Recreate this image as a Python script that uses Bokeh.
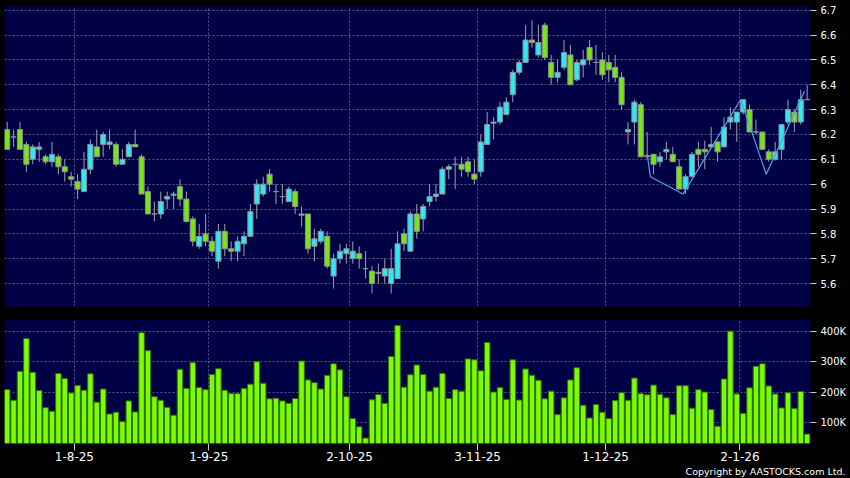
from bokeh.plotting import figure
from bokeh.layouts import column
from bokeh.models import ColumnDataSource, FixedTicker, CustomJSTickFormatter, Range1d, Title
from bokeh.embed import file_html
from bokeh.resources import INLINE

# ---------------- data ----------------
opens = [6.22, 6.19, 6.22, 6.16, 6.10, 6.14, 6.11, 6.09, 6.11, 6.07,
         6.03, 6.01, 5.97, 6.06, 6.15, 6.16, 6.16, 6.16, 6.08, 6.11,
         6.16, 6.11, 5.97, 5.88, 5.88, 5.94, 5.955, 5.99, 5.94, 5.86,
         5.75, 5.80, 5.77, 5.69, 5.81, 5.74, 5.73, 5.76, 5.79, 5.92,
         5.96, 6.04, 5.97, 5.95, 5.93, 5.97, 5.875, 5.88, 5.75, 5.77,
         5.79, 5.63, 5.70, 5.72, 5.70, 5.72, 5.66, 5.65, 5.64, 5.63,
         5.60, 5.62, 5.80, 5.73, 5.88, 5.86, 5.93, 5.95, 5.96, 6.06,
         6.08, 6.08, 6.09, 6.04, 6.05, 6.16, 6.245, 6.25, 6.28, 6.36,
         6.45, 6.49, 6.58, 6.52, 6.64, 6.49, 6.43, 6.47, 6.52, 6.42,
         6.48, 6.55, 6.49, 6.50, 6.49, 6.47, 6.43, 6.21, 6.25, 6.32,
         6.115, 6.12, 6.09, 6.13, 6.12, 6.07, 5.98, 6.03, 6.14, 6.14,
         6.15, 6.17, 6.15, 6.25, 6.25, 6.29, 6.30, 6.21, 6.21, 6.13,
         6.10, 6.14, 6.25, 6.29, 6.25, 6.34]
highs = [6.25, 6.22, 6.25, 6.17, 6.16, 6.17, 6.12, 6.17, 6.12, 6.10,
         6.05, 6.04, 6.13, 6.18, 6.22, 6.21, 6.22, 6.17, 6.14, 6.17,
         6.22, 6.12, 5.99, 5.93, 5.97, 5.97, 5.97, 6.02, 5.97, 5.87,
         5.84, 5.88, 5.79, 5.84, 5.84, 5.77, 5.79, 5.81, 5.92, 6.02,
         6.03, 6.06, 6.00, 6.00, 5.99, 5.98, 5.91, 5.88, 5.82, 5.82,
         5.81, 5.72, 5.76, 5.76, 5.77, 5.75, 5.73, 5.67, 5.68, 5.70,
         5.74, 5.81, 5.82, 5.89, 5.92, 5.92, 6.00, 6.00, 6.07, 6.08,
         6.11, 6.11, 6.11, 6.10, 6.20, 6.29, 6.27, 6.33, 6.35, 6.46,
         6.50, 6.64, 6.66, 6.64, 6.65, 6.52, 6.50, 6.58, 6.56, 6.50,
         6.54, 6.58, 6.56, 6.53, 6.52, 6.52, 6.45, 6.25, 6.34, 6.33,
         6.21, 6.12, 6.13, 6.17, 6.15, 6.10, 6.04, 6.13, 6.17, 6.175,
         6.23, 6.175, 6.27, 6.31, 6.29, 6.34, 6.32, 6.26, 6.21, 6.14,
         6.17, 6.24, 6.34, 6.30, 6.38, 6.40]
lows = [6.14, 6.15, 6.14, 6.05, 6.08, 6.09, 6.08, 6.07, 6.04, 6.01,
        5.99, 5.94, 5.97, 6.04, 6.11, 6.11, 6.14, 6.07, 6.08, 6.11,
        6.15, 5.96, 5.88, 5.85, 5.86, 5.90, 5.90, 5.91, 5.845, 5.75,
        5.74, 5.75, 5.71, 5.66, 5.71, 5.69, 5.69, 5.71, 5.79, 5.86,
        5.95, 5.97, 5.92, 5.92, 5.93, 5.88, 5.83, 5.72, 5.69, 5.76,
        5.66, 5.58, 5.68, 5.68, 5.68, 5.66, 5.62, 5.56, 5.60, 5.60,
        5.56, 5.62, 5.73, 5.73, 5.78, 5.81, 5.91, 5.93, 5.96, 6.02,
        5.98, 6.03, 6.03, 6.00, 6.03, 6.16, 6.18, 6.24, 6.28, 6.33,
        6.44, 6.49, 6.55, 6.51, 6.50, 6.40, 6.41, 6.46, 6.40, 6.415,
        6.43, 6.48, 6.44, 6.42, 6.41, 6.41, 6.30, 6.16, 6.16, 6.11,
        6.10, 6.04, 6.07, 6.10, 6.09, 5.98, 5.96, 6.03, 6.07, 6.06,
        6.15, 6.09, 6.15, 6.22, 6.17, 6.28, 6.21, 6.20, 6.14, 6.09,
        6.095, 6.10, 6.24, 6.21, 6.24, 6.34]
closes = [6.14, 6.19, 6.14, 6.08, 6.15, 6.15, 6.09, 6.12, 6.07, 6.05,
          6.02, 5.98, 6.06, 6.16, 6.11, 6.20, 6.17, 6.08, 6.10, 6.16,
          6.15, 5.96, 5.88, 5.88, 5.93, 5.95, 5.96, 5.94, 5.85, 5.77,
          5.79, 5.77, 5.73, 5.81, 5.74, 5.73, 5.77, 5.79, 5.89, 6.00,
          6.00, 6.00, 5.97, 5.95, 5.98, 5.91, 5.88, 5.74, 5.78, 5.81,
          5.67, 5.70, 5.73, 5.74, 5.73, 5.70, 5.66, 5.60, 5.645, 5.66,
          5.66, 5.76, 5.76, 5.88, 5.81, 5.91, 5.95, 5.96, 6.06, 6.07,
          6.08, 6.06, 6.05, 6.02, 6.17, 6.24, 6.25, 6.31, 6.33, 6.45,
          6.49, 6.58, 6.57, 6.57, 6.51, 6.43, 6.45, 6.53, 6.40, 6.49,
          6.50, 6.50, 6.49, 6.44, 6.46, 6.43, 6.32, 6.22, 6.33, 6.11,
          6.11, 6.08, 6.11, 6.14, 6.09, 5.98, 6.03, 6.12, 6.12, 6.13,
          6.16, 6.13, 6.23, 6.27, 6.29, 6.34, 6.21, 6.21, 6.14, 6.10,
          6.13, 6.24, 6.30, 6.25, 6.34, 6.34]
volumes_k = [208, 173, 268, 376, 265, 205, 149, 137, 261, 245,
             197, 222, 206, 260, 167, 210, 128, 134, 103, 171,
             135, 395, 336, 185, 173, 150, 124, 275, 212, 297,
             215, 208, 258, 277, 206, 195, 195, 212, 226, 300,
             229, 178, 180, 171,
             163, 179, 302, 240, 231, 210, 255, 293, 273, 185,
             113, 86, 49, 175, 192, 163, 317, 419, 216, 257,
             289, 258, 203, 216, 261, 179, 208, 203, 309, 306,
             270, 363, 200, 215, 176, 306, 174, 276, 255, 239,
             178, 203,
             126, 181, 240, 280, 157, 115, 159, 134, 113, 172,
             198, 173, 246, 195, 191, 223, 193, 181, 126, 221,
             221, 147, 208, 200, 143, 88, 243, 400, 194, 130,
             214, 285, 293, 220, 194, 148, 198, 146, 202, 62]

# zig-zag overlay (candle index, price)
zigzag_idx = [100.0, 100.5, 105.6, 114.6, 118.6, 124.6]
zigzag_px = [6.12, 6.03, 5.96, 6.34, 6.04, 6.375]

# date axis: label and candle index of first trading day of that month
date_labels = ["1-8-25", "1-9-25", "2-10-25", "3-11-25", "1-12-25", "2-1-26"]
date_index = [10, 31, 53, 73, 93, 114]

price_ticks = [5.6, 5.7, 5.8, 5.9, 6.0, 6.1, 6.2, 6.3, 6.4, 6.5, 6.6, 6.7]
volume_ticks = [100000, 200000, 300000, 400000]

# ---------------- styling ----------------
BG = "#000000"
NAVY = "#000044"
UP = "#30e8f2"
DOWN = "#78e614"
GRID = "#55558a"
FONT = "DejaVu Sans"

n = len(opens)
idx = list(range(n))
tops = [max(o, c) for o, c in zip(opens, closes)]
bots = [min(o, c) for o, c in zip(opens, closes)]
cols = [UP if c > o else DOWN for o, c in zip(opens, closes)]
src = ColumnDataSource(dict(x=idx, o=opens, h=highs, l=lows, c=closes,
                            top=tops, bot=bots, col=cols,
                            vol=[v * 1000 for v in volumes_k]))

tick_pos = [i + 0.5 for i in date_index]
xr = Range1d(-0.42, n - 0.48)

W = 850
LB = 4
RB = 40


def style(p):
    p.background_fill_color = NAVY
    p.border_fill_color = BG
    p.outline_line_color = None
    p.xgrid.ticker = FixedTicker(ticks=tick_pos)
    for g in (p.xgrid, p.ygrid):
        g.grid_line_color = GRID
        g.grid_line_dash = "2 2"
        g.grid_line_width = 1
    ax = p.yaxis[0]
    ax.axis_line_color = None
    ax.major_tick_in = 0
    ax.major_tick_out = 6
    ax.major_tick_line_color = "#c8c8c8"
    ax.minor_tick_line_color = None
    ax.major_label_text_color = "#ffffff"
    ax.major_label_text_font = FONT
    ax.major_label_text_font_size = "10px"
    ax.major_label_standoff = 4


# ---------------- price panel ----------------
pp = figure(width=W, height=312, x_range=xr, y_range=Range1d(5.5076, 6.715),
            output_backend="svg", toolbar_location=None,
            x_axis_location=None, y_axis_location="right",
            min_border_left=LB, min_border_right=RB, min_border_top=6, min_border_bottom=6)
style(pp)
pp.yaxis.ticker = FixedTicker(ticks=price_ticks)
pp.yaxis.formatter = CustomJSTickFormatter(code="return String(Math.round(tick * 10) / 10);")
pp.ygrid.ticker = FixedTicker(ticks=price_ticks)

pp.segment(x0="x", y0="h", x1="x", y1="l", source=src, line_color="#a0a0a8", line_width=1)
pp.vbar(x="x", top="top", bottom="bot", width=0.8, source=src,
        fill_color="col", line_color="#8e8e96", line_width=1)
pp.line(zigzag_idx, zigzag_px, line_color="#4aa3e6", line_width=1.2)

# ---------------- volume panel ----------------
pv = figure(width=W, height=166, x_range=xr, y_range=Range1d(31200, 438300),
            output_backend="svg", toolbar_location=None,
            x_axis_location="below", y_axis_location="right",
            min_border_left=LB, min_border_right=RB, min_border_top=7, min_border_bottom=35)
style(pv)
pv.yaxis.ticker = FixedTicker(ticks=volume_ticks)
pv.yaxis.formatter = CustomJSTickFormatter(code="return (tick / 1000).toFixed(0) + 'K';")
pv.ygrid.ticker = FixedTicker(ticks=volume_ticks)

xa = pv.xaxis[0]
xa.ticker = FixedTicker(ticks=tick_pos)
xa.formatter = CustomJSTickFormatter(args=dict(pos=tick_pos, lab=date_labels), code="""
    const i = pos.findIndex(v => Math.abs(v - tick) < 0.01);
    return i < 0 ? "" : lab[i];
""")
xa.axis_line_color = None
xa.major_tick_in = 0
xa.major_tick_out = 7
xa.major_tick_line_color = "#c8c8c8"
xa.minor_tick_line_color = None
xa.major_label_text_color = "#ffffff"
xa.major_label_text_font = FONT
xa.major_label_text_font_size = "12px"
xa.major_label_standoff = 1

pv.vbar(x="x", top="vol", bottom=0, width=0.86, source=src,
        fill_color="#7cfc00", line_color="#2f7000", line_width=1)

pv.add_layout(Title(text="Copyright by AASTOCKS.com Ltd.", align="right",
                    text_color="#ffffff", text_font=FONT, text_font_size="9.5px",
                    text_font_style="normal", standoff=0, offset=-35), "below")

layout = column(pp, pv, spacing=0)
html = file_html(layout, INLINE)
html = html.replace("</head>", "<style>html, body { background: #000000; }</style></head>", 1)
open("out.html", "w").write(html)
